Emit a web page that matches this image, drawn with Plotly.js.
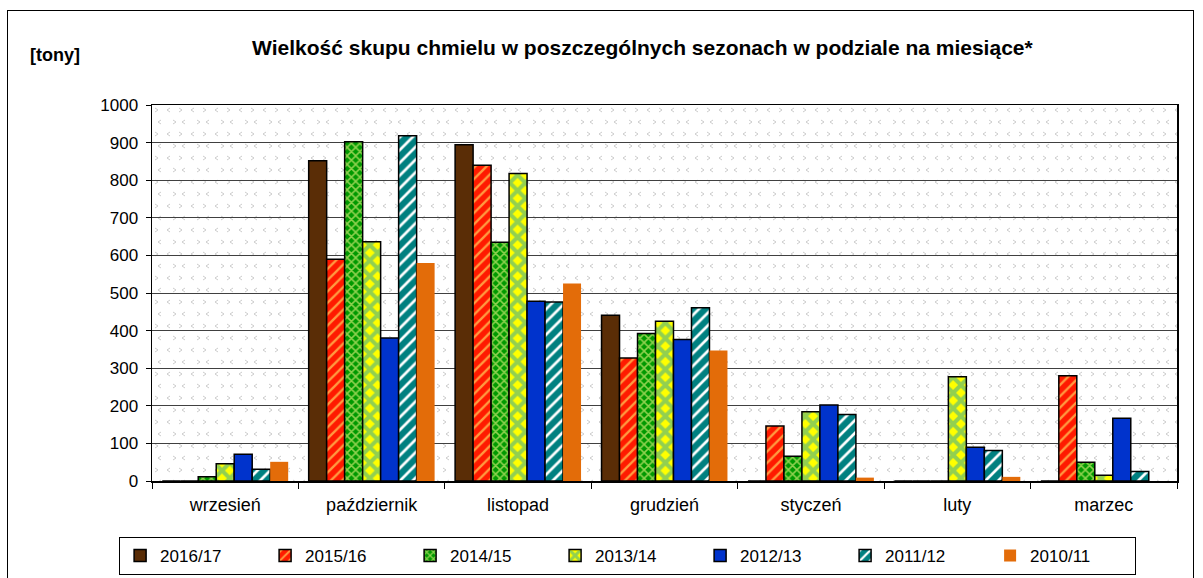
<!DOCTYPE html>
<html>
<head>
<meta charset="utf-8">
<script src="https://cdn.plot.ly/plotly-3.0.1.min.js"></script>
<style>
  html, body { margin: 0; padding: 0; background: #ffffff; }
  #wrap { position: relative; width: 1203px; height: 578px; }
  #chart { width: 1203px; height: 578px; }
  #frame { position: absolute; left: 7px; top: 10px; width: 1187px; height: 570px; border: 1px solid #000; pointer-events: none; box-sizing: border-box; }
</style>
</head>
<body>
<div id="wrap">
  <div id="chart"></div>
  <div id="frame"></div>
</div>
<script>
const months = ["wrzesień", "październik", "listopad", "grudzień", "styczeń", "luty", "marzec"];
const seasons = ["2016/17", "2015/16", "2014/15", "2013/14", "2012/13", "2011/12", "2010/11"];

const s2016_17 = [0, 852, 894, 441, 0, 0, 0];
const s2015_16 = [0, 590, 840, 327, 146, 0, 280];
const s2014_15 = [11, 902, 635, 392, 66, 0, 50];
const s2013_14 = [46, 636, 818, 425, 184, 277, 15];
const s2012_13 = [71, 380, 478, 376, 202, 90, 167];
const s2011_12 = [31, 918, 476, 461, 177, 81, 25];
const s2010_11 = [51, 580, 525, 347, 9, 11, 0];

const seriesValues = [s2016_17, s2015_16, s2014_15, s2013_14, s2012_13, s2011_12, s2010_11];

const yTicks = [0, 100, 200, 300, 400, 500, 600, 700, 800, 900, 1000];

const styles = [
  { color: "#5a2d06", pattern: null, line: 1.5 },
  { color: "#ff1a00", pattern: { shape: "/", fgcolor: "#ff9a40", bgcolor: "#ff1a00", size: 8, solidity: 0.3 }, line: 1.5 },
  { color: "#009900", pattern: { shape: "x", fgcolor: "#8fd14f", bgcolor: "#009900", size: 6, solidity: 0.45 }, line: 1.5 },
  { color: "#ffff00", pattern: { shape: "x", fgcolor: "#92d050", bgcolor: "#ffff00", size: 11, solidity: 0.6 }, line: 1.5 },
  { color: "#0033cc", pattern: null, line: 1.5 },
  { color: "#008080", pattern: { shape: "/", fgcolor: "#ffffff", bgcolor: "#008080", size: 9, solidity: 0.3 }, line: 1.5 },
  { color: "#e36c09", pattern: null, line: 0 }
];

const traces = seasons.map((name, i) => {
  const st = styles[i];
  const marker = { color: st.color, line: { color: "#000000", width: st.line } };
  if (st.pattern) marker.pattern = st.pattern;
  return { type: "bar", name: name, x: months, y: seriesValues[i], marker: marker };
});

// light chevron background texture of the plot area
const bgSvg =
  '<svg xmlns="http://www.w3.org/2000/svg" width="1025" height="376">' +
  '<defs><pattern id="p" width="24" height="24" patternUnits="userSpaceOnUse">' +
  '<path d="M3 3 L6 5 L3 7 M18 3 L15 5 L18 7 M9 15 L6 17 L9 19 M21 15 L24 17 L21 19" fill="none" stroke="#cccccc" stroke-width="1"/>' +
  '</pattern></defs><rect width="1025" height="376" fill="#ffffff"/><rect width="1025" height="376" fill="url(#p)"/></svg>';
const bgUri = "data:image/svg+xml;base64," + btoa(bgSvg);

const layout = {
  width: 1203,
  height: 578,
  margin: { l: 152, r: 26, t: 105, b: 97 },
  paper_bgcolor: "#ffffff",
  plot_bgcolor: "rgba(0,0,0,0)",
  font: { family: "Liberation Sans, Arial, sans-serif", color: "#000000", size: 17 },
  title: {
    text: "<b>Wielkość skupu chmielu w poszczególnych sezonach w podziale na miesiące*</b>",
    font: { size: 21, family: "Liberation Sans, Arial, sans-serif", color: "#000" },
    x: 0.534, xanchor: "center", y: 0.918, yanchor: "middle"
  },
  barmode: "group",
  bargap: 0.14,
  bargroupgap: 0,
  xaxis: {
    type: "category",
    showline: true, linecolor: "#000", linewidth: 1.5, mirror: true,
    ticks: "outside", tickson: "boundaries", ticklen: 6, tickcolor: "#000",
    tickfont: { size: 18 },
    ticklabelstandoff: 7,
    showgrid: false,
    automargin: false
  },
  yaxis: {
    range: [0, 1000],
    tickvals: yTicks,
    ticktext: yTicks.map(String),
    showline: true, linecolor: "#000", linewidth: 1.5, mirror: true,
    ticks: "outside", ticklen: 5, tickcolor: "#000",
    tickfont: { size: 17 },
    ticklabelstandoff: 4,
    showgrid: true, gridcolor: "#404040", gridwidth: 1,
    zeroline: false,
    automargin: false
  },
  legend: {
    orientation: "h",
    x: 0.464, xanchor: "center", xref: "paper",
    y: 0.071, yanchor: "top", yref: "container",
    bordercolor: "#000", borderwidth: 1,
    bgcolor: "#ffffff",
    font: { size: 17 },
    entrywidth: 100,
    itemwidth: 30,
    tracegroupgap: 0,
    traceorder: "normal"
  },
  images: [
    { source: bgUri, xref: "paper", yref: "paper", x: 0, y: 1, sizex: 1, sizey: 1,
      xanchor: "left", yanchor: "top", sizing: "stretch", layer: "below" }
  ],
  annotations: [
    { text: "<b>[tony]</b>", xref: "paper", yref: "paper", x: -0.121, y: 1.134, xanchor: "left", yanchor: "middle",
      showarrow: false, font: { size: 18, family: "Liberation Sans, Arial, sans-serif" } }
  ],
  showlegend: true
};

Plotly.newPlot("chart", traces, layout, { displayModeBar: false, staticPlot: true });
</script>
</body>
</html>
